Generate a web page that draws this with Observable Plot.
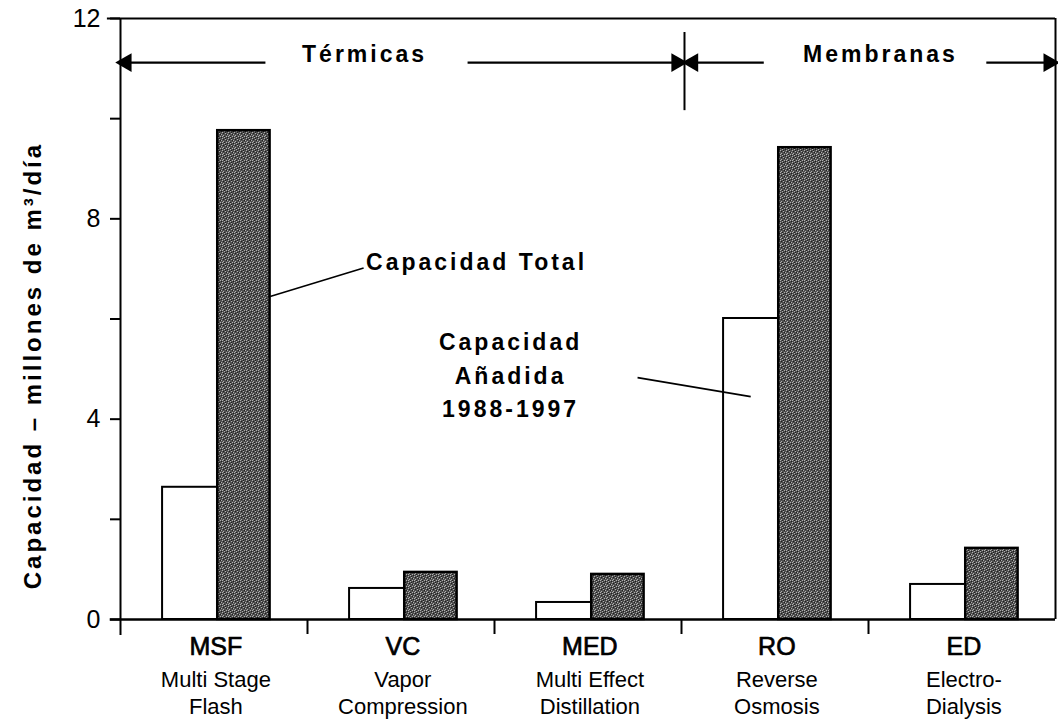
<!DOCTYPE html>
<html><head><meta charset="utf-8">
<script src="https://cdn.jsdelivr.net/npm/d3@7"></script>
<script src="https://cdn.jsdelivr.net/npm/@observablehq/plot@0.6"></script>
<style>
body{margin:0;background:#fff}
#chart svg{font-family:"Liberation Sans",Arial,sans-serif}
.ann text, text.ann{letter-spacing:3px}
.ytitle text, text.ytitle{letter-spacing:3px}
</style>
</head><body><div id="chart"></div><script>
// ---- data ----
const categories = ["MSF", "VC", "MED", "RO", "ED"];
const fullNames = ["Multi Stage\nFlash", "Vapor\nCompression", "Multi Effect\nDistillation", "Reverse\nOsmosis", "Electro-\nDialysis"];
const addedCapacity = [2.64, 0.62, 0.34, 6.01, 0.70];   // Capacidad Añadida 1988-1997
const totalCapacity = [9.76, 0.94, 0.90, 9.42, 1.42];   // Capacidad Total
const yTicks = [0, 4, 8, 12];
const yMinorTicks = [2, 6, 10];
const groupLabels = ["Térmicas", "Membranas"];
const yTitle = "Capacidad – millones de m³/día";
const noteTotal = "Capacidad Total";
const noteAdded = "Capacidad\nAñadida\n1988-1997";

const rows = categories.map((c, i) => ({i, c, name: fullNames[i], added: addedCapacity[i], total: totalCapacity[i]}));

// annotation geometry in data units (x: category index space 0..5, y: capacity)
const arrowY = 11.12;
const arrows = [
  {x1: 0.775, x2: 0.03, dir: -90},
  {x1: 1.856, x2: 2.975, dir: 90},
  {x1: 3.44, x2: 3.06, dir: -90},
  {x1: 4.63, x2: 4.965, dir: 90}
];
const leaders = [
  {x1: 0.80, y1: 6.45, x2: 1.30, y2: 7.02},
  {x1: 2.765, y1: 4.83, x2: 3.37, y2: 4.45}
];

const svg = Plot.plot({
  width: 1058,
  height: 723,
  marginLeft: 120,
  marginRight: 3,
  marginTop: 18,
  marginBottom: 104,
  style: {fontFamily: "'Liberation Sans', Arial, sans-serif", fontSize: "20px", color: "black", background: "white", overflow: "visible"},
  x: {type: "linear", domain: [0, 5], axis: null},
  y: {domain: [0, 12], axis: null},
  marks: [
    // bars
    Plot.rectY(rows, {x1: d => d.i + 0.225, x2: d => d.i + 0.52, y: "added", fill: "white", stroke: "black", strokeWidth: 2}),
    Plot.rectY(rows, {x1: d => d.i + 0.52, x2: d => d.i + 0.80, y: "total", fill: "url(#grain)", stroke: "black", strokeWidth: 2.5}),
    // frame
    Plot.ruleY([12], {x1: -0.07, x2: 5, strokeWidth: 2}),
    Plot.ruleY([0], {x1: -0.055, x2: 5, strokeWidth: 2.5}),
    Plot.ruleX([0], {y1: -0.32, y2: 12, strokeWidth: 2}),
    Plot.ruleX([5], {y1: 0, y2: 12, strokeWidth: 2}),
    Plot.ruleX([1, 2, 3, 4], {y1: 0, y2: -0.3, strokeWidth: 2}),
    // y axis
    Plot.axisY(yTicks, {tickSize: 10, tickPadding: 10, fontSize: 25, strokeWidth: 2, tickFormat: d => String(d), label: null}),
    Plot.axisY(yMinorTicks, {tickSize: 10, tickFormat: () => "", strokeWidth: 2, label: null}),
    // category labels
    Plot.text(rows, {x: d => d.i + 0.51, y: 0, text: "c", dy: 27, fontSize: 25, stroke: "black", strokeWidth: 0.7, fill: "black", lineAnchor: "middle"}),
    Plot.text(rows, {x: d => d.i + 0.51, y: 0, text: "name", dy: 49, fontSize: 22, lineAnchor: "top", lineHeight: 1.2}),
    // group arrows
    Plot.link(arrows, {x1: "x1", x2: "x2", y1: arrowY, y2: arrowY, strokeWidth: 2.2}),
    Plot.dot(arrows, {x: "x2", y: arrowY, symbol: "triangle", r: 7, fill: "black", rotate: "dir"}),
    Plot.ruleX([3.016], {y1: 10.16, y2: 11.72, strokeWidth: 2}),
    Plot.text(groupLabels, {x: [1.305, 4.064], y: 11.27, text: d => d, fontSize: 23, fontWeight: "bold", className: "ann"}),
    // y title
    Plot.text([yTitle], {x: -0.465, y: 5.07, text: d => d, rotate: -90, fontSize: 24, fontWeight: "bold", className: "ytitle"}),
    // callouts
    Plot.link(leaders, {x1: "x1", y1: "y1", x2: "x2", y2: "y2", strokeWidth: 1.6}),
    Plot.text([noteTotal], {x: 1.904, y: 7.13, text: d => d, fontSize: 23, fontWeight: "bold", className: "ann"}),
    Plot.text([noteAdded], {x: 2.086, y: 5.51, text: d => d, fontSize: 23, fontWeight: "bold", lineAnchor: "top", dy: -17, lineHeight: 1.45, className: "ann"})
  ]
});

// texture for the total-capacity bars
const defs = d3.select(svg).insert("defs", ":first-child");
const pat = defs.append("pattern").attr("id", "grain").attr("width", 6).attr("height", 6).attr("patternUnits", "userSpaceOnUse");
pat.append("rect").attr("width", 6).attr("height", 6).attr("fill", "#505050");
[[0,0],[3,1],[1,3],[4,4],[2,5],[5,2],[0,4]].forEach(([x, y]) => pat.append("rect").attr("x", x).attr("y", y).attr("width", 1).attr("height", 1).attr("fill", "#b0b0b0"));
[[1,1],[4,2],[2,4],[5,5],[3,0]].forEach(([x, y]) => pat.append("rect").attr("x", x).attr("y", y).attr("width", 1).attr("height", 1).attr("fill", "#1e1e1e"));

document.getElementById("chart").append(svg);
</script></body></html>
